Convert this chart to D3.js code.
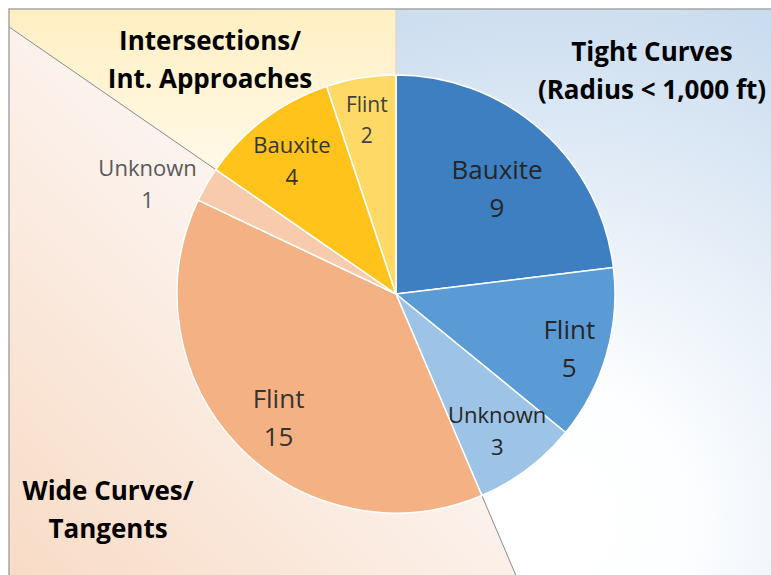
<!DOCTYPE html>
<html>
<head>
<meta charset="utf-8">
<script src="https://cdn.jsdelivr.net/npm/d3@7"></script>
<style>
  html, body { margin: 0; padding: 0; background: #ffffff; }
  svg { display: block; font-family: "Open Sans", Lato, sans-serif; }
</style>
</head>
<body>
<svg id="chart" width="771" height="575"></svg>
<script>
// slice data, clockwise from 12 o'clock
var categories = ["Bauxite", "Flint", "Unknown", "Flint", "Unknown", "Bauxite", "Flint"];
var values = [9, 5, 3, 15, 1, 4, 2];
var sliceGroup = [0, 0, 0, 1, 1, 2, 2];

// the three road situations
var groupNames = ["Tight Curves", "Wide Curves/Tangents", "Intersections/Int. Approaches"];
var groupTitleLines = [
    ["Tight Curves", "(Radius < 1,000 ft)"],
    ["Wide Curves/", "Tangents"],
    ["Intersections/", "Int. Approaches"]
];

var width = 771, height = 575;
var cx = 396, cy = 294, radius = 219;
var frame = {x: 9, y: 9};

var sliceColors = ["#3d7fc1", "#5b9bd5", "#9dc3e6", "#f4b183", "#f8cbad", "#ffc31b", "#ffd966"];
var labelColors = ["#262626", "#262626", "#262626", "#333333", "#595959", "#333333", "#404040"];
var labelSize = [26, 26, 22, 26, 22, 22, 21];
var labelRadius = [0.665, 0.83, 0.78, 0.78, 1.24, 0.77, 0.805];
var labelTurn = [2.4, 1.4, 0.6, -2.7, -6.2, -1.2, -0.3]; // degrees, small nudges

var svg = d3.select("#chart");
var defs = svg.append("defs");

defs.append("clipPath").attr("id", "frameClip")
    .append("rect")
    .attr("x", frame.x).attr("y", frame.y)
    .attr("width", width - frame.x).attr("height", height - frame.y);

/**
 * Background gradients, one per group (coords relative to the pie centre)
 */
var gBlue = defs.append("radialGradient").attr("id", "bgBlue")
    .attr("gradientUnits", "userSpaceOnUse")
    .attr("cx", 550 - cx).attr("cy", 520 - cy).attr("r", 540);
gBlue.append("stop").attr("offset", "0%").attr("stop-color", "#ffffff");
gBlue.append("stop").attr("offset", "25%").attr("stop-color", "#fdfeff");
gBlue.append("stop").attr("offset", "100%").attr("stop-color", "#cadcef");

var gOrange = defs.append("linearGradient").attr("id", "bgOrange")
    .attr("gradientUnits", "userSpaceOnUse")
    .attr("x1", 0 - cx).attr("y1", 575 - cy).attr("x2", 300 - cx).attr("y2", 280 - cy);
gOrange.append("stop").attr("offset", "0%").attr("stop-color", "#f8dbc5");
gOrange.append("stop").attr("offset", "100%").attr("stop-color", "#fcf3ee");

var gYellow = defs.append("linearGradient").attr("id", "bgYellow")
    .attr("gradientUnits", "userSpaceOnUse")
    .attr("x1", 0).attr("y1", 9 - cy).attr("x2", 0).attr("y2", 200 - cy);
gYellow.append("stop").attr("offset", "0%").attr("stop-color", "#ffefc2");
gYellow.append("stop").attr("offset", "100%").attr("stop-color", "#fffbef");

var bgFills = ["url(#bgBlue)", "url(#bgOrange)", "url(#bgYellow)"];

// group totals -> angle spans for the background sectors
var groupValues = groupNames.map(function (g, i) {
    return d3.sum(values.filter(function (v, k) { return sliceGroup[k] === i; }));
});

var pie = d3.pie().sort(null).value(function (d) { return d; });
var groupArcs = pie(groupValues);
var sliceArcs = pie(values);

var bgLayer = svg.append("g").attr("clip-path", "url(#frameClip)")
    .append("g")
    .attr("transform", "translate(" + cx + "," + cy + ")");

var bigArc = d3.arc().innerRadius(0).outerRadius(1200);
bgLayer.selectAll("path.bg")
    .data(groupArcs)
    .enter().append("path")
    .attr("class", "bg")
    .attr("d", bigArc)
    .attr("fill", function (d, i) { return bgFills[i]; });

// separator lines along the group boundaries
bgLayer.selectAll("line.sep")
    .data(groupArcs)
    .enter().append("line")
    .attr("class", "sep")
    .attr("x1", 0).attr("y1", 0)
    .attr("x2", function (d) { return 1200 * Math.sin(d.startAngle); })
    .attr("y2", function (d) { return -1200 * Math.cos(d.startAngle); })
    .attr("stroke", function (d, i) { return i === 0 ? "#d9d3c3" : "#8a8a8a"; })
    .attr("stroke-width", 1);

// frame border (top and left visible)
svg.append("path")
    .attr("d", "M" + frame.x + "," + height + " L" + frame.x + "," + frame.y + " L" + width + "," + frame.y)
    .attr("fill", "none")
    .attr("stroke", "#a6a6a6")
    .attr("stroke-width", 1.5);

/**
 * Pie slices
 */
var pieLayer = svg.append("g").attr("transform", "translate(" + cx + "," + cy + ")");
var arc = d3.arc().innerRadius(0).outerRadius(radius);

pieLayer.selectAll("path.slice")
    .data(sliceArcs)
    .enter().append("path")
    .attr("class", "slice")
    .attr("d", arc)
    .attr("fill", function (d, i) { return sliceColors[i]; })
    .attr("stroke", "#ffffff")
    .attr("stroke-width", 1.5)
    .attr("stroke-linejoin", "round");

// slice labels: category on one line, value below
var labels = pieLayer.selectAll("text.sliceLabel")
    .data(sliceArcs)
    .enter().append("text")
    .attr("class", "sliceLabel")
    .attr("text-anchor", "middle")
    .attr("font-size", function (d, i) { return labelSize[i]; })
    .attr("fill", function (d, i) { return labelColors[i]; })
    .attr("transform", function (d, i) {
        var a = (d.startAngle + d.endAngle) / 2 + labelTurn[i] * Math.PI / 180;
        var r = radius * labelRadius[i];
        return "translate(" + (r * Math.sin(a)) + "," + (-r * Math.cos(a)) + ")";
    });

labels.append("tspan")
    .attr("x", 0)
    .attr("dy", function (d, i) { return -labelSize[i] * 0.38; })
    .text(function (d, i) { return categories[i]; });
labels.append("tspan")
    .attr("x", 0)
    .attr("dy", function (d, i) { return labelSize[i] * 1.46; })
    .text(function (d, i) { return values[i]; });

/**
 * Group titles
 */
var titlePos = [[652, 52], [108, 491], [210, 41]];
groupTitleLines.forEach(function (lines, i) {
    var t = svg.append("text")
        .attr("class", "groupTitle")
        .attr("text-anchor", "middle")
        .attr("font-size", 26)
        .attr("font-weight", "bold")
        .attr("fill", "#000000")
        .attr("x", titlePos[i][0])
        .attr("y", titlePos[i][1] + 9);
    lines.forEach(function (line, k) {
        t.append("tspan")
            .attr("x", titlePos[i][0])
            .attr("dy", k === 0 ? 0 : 38)
            .text(line);
    });
});
</script>
</body>
</html>
